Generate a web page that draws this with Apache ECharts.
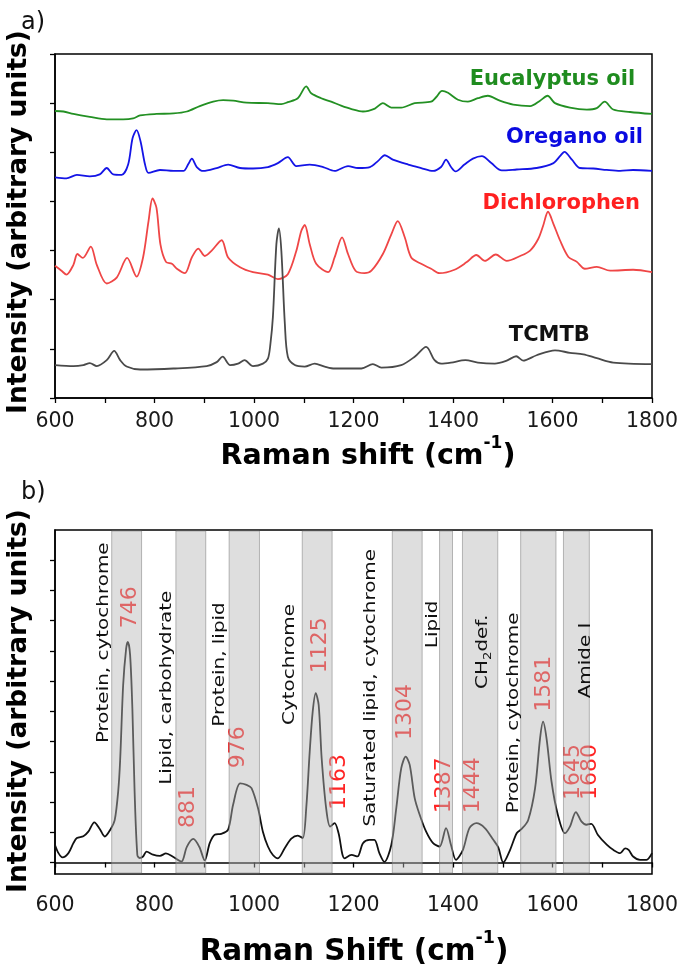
<!DOCTYPE html>
<html><head><meta charset="utf-8">
<script src="https://cdn.jsdelivr.net/npm/echarts@6/dist/echarts.min.js"></script>
<style>html,body{margin:0;padding:0;background:#fff}#c{width:685px;height:979px}</style>
</head><body><div id="c"></div>
<script>
// ---------- Panel a) data ----------
const eucX = [600,617,637,670,704,737,757,771,804,838,865,891,918,938,958,985,1028,1055,1068,1088,1105,1115,1135,1155,1175,1196,1219,1243,1259,1276,1296,1323,1356,1366,1378,1390,1410,1430,1450,1470,1494,1521,1555,1575,1590,1605,1635,1669,1689,1705,1722,1756,1800];
const eucY = [5.84,5.83,5.78,5.72,5.67,5.67,5.69,5.75,5.78,5.79,5.83,5.94,6.03,6.06,6.05,6.01,6.00,5.98,6.02,6.10,6.34,6.20,6.10,6.03,5.95,5.88,5.83,5.89,6.00,5.91,5.91,6.00,6.03,6.12,6.25,6.21,6.07,6.03,6.10,6.15,6.05,5.97,5.94,6.05,6.15,6.00,5.91,5.87,5.90,6.03,5.87,5.82,5.78];

const oreX = [600,623,644,670,690,704,717,734,747,756,764,772,781,788,811,838,858,868,875,885,898,925,948,972,998,1028,1048,1068,1085,1112,1139,1162,1189,1209,1233,1249,1263,1279,1310,1336,1360,1376,1386,1396,1405,1423,1440,1458,1477,1498,1528,1568,1602,1615,1624,1639,1655,1682,1709,1736,1762,1800];
const oreY = [4.49,4.47,4.54,4.51,4.55,4.68,4.55,4.54,4.75,5.29,5.45,5.22,4.75,4.58,4.64,4.62,4.62,4.76,4.87,4.70,4.62,4.68,4.75,4.68,4.67,4.70,4.78,4.90,4.72,4.75,4.70,4.62,4.72,4.68,4.70,4.82,4.94,4.85,4.75,4.68,4.62,4.70,4.85,4.70,4.61,4.75,4.87,4.92,4.78,4.63,4.65,4.68,4.78,4.92,5.01,4.85,4.68,4.67,4.64,4.62,4.64,4.62];

const dicX = [600,613,623,637,645,656,672,684,704,724,745,764,777,788,796,804,812,823,835,845,861,875,888,901,915,935,948,972,998,1028,1048,1068,1085,1095,1102,1112,1125,1149,1162,1177,1189,1204,1222,1236,1259,1276,1289,1303,1316,1336,1356,1373,1403,1427,1447,1464,1486,1508,1535,1555,1571,1581,1591,1602,1615,1632,1649,1665,1689,1716,1762,1800];
const dicY = [2.69,2.59,2.51,2.71,2.93,2.85,3.08,2.71,2.33,2.45,2.85,2.47,2.86,3.60,4.06,3.87,3.12,2.77,2.73,2.63,2.54,2.86,3.04,2.89,3.00,3.21,2.86,2.66,2.56,2.51,2.42,2.52,2.99,3.40,3.52,3.13,2.73,2.56,2.86,3.27,2.93,2.59,2.54,2.59,2.93,3.33,3.60,3.27,2.86,2.73,2.63,2.54,2.61,2.76,2.91,2.79,2.92,2.79,2.89,3.00,3.23,3.50,3.79,3.54,3.21,2.87,2.77,2.63,2.67,2.59,2.61,2.56];

const tcmX = [600,637,657,670,684,704,719,731,744,771,838,905,925,937,952,968,981,998,1018,1028,1033,1038,1045,1050,1055,1062,1068,1082,1102,1122,1142,1162,1216,1239,1256,1296,1323,1346,1363,1376,1396,1425,1450,1484,1508,1527,1541,1568,1605,1635,1662,1689,1722,1800];
const tcmY = [0.67,0.65,0.67,0.71,0.65,0.77,0.96,0.77,0.64,0.58,0.60,0.65,0.73,0.84,0.67,0.70,0.77,0.65,0.70,0.80,1.10,1.65,3.13,3.45,2.99,1.51,0.84,0.67,0.64,0.70,0.64,0.60,0.60,0.69,0.62,0.67,0.84,1.04,0.77,0.70,0.72,0.77,0.72,0.70,0.76,0.85,0.76,0.87,0.97,0.92,0.89,0.81,0.72,0.69];

const seriesNamesA = ['Eucalyptus oil','Oregano oil','Dichlorophen','TCMTB'];
const seriesLabelPos = [[1766,6.49],[1782,5.29],[1776,3.96],[1675,1.27]];

// ---------- Panel b) data ----------
const cellX = [600,607,615,627,637,644,657,667,679,690,700,712,720,727,731,737,743,746.5,751,755.5,760,765.5,770,777,784,797,811,823,838,854,865,878,890,901,911,921,934,948,958,972,985,995,1008,1018,1028,1038,1048,1062,1075,1088,1098,1105,1112,1118,1124,1130,1136,1145,1153,1162,1170,1182,1196,1208,1219,1232,1242,1252,1262,1276,1286,1296,1305,1313,1323,1333,1346,1360,1373,1386,1396,1406,1420,1433,1447,1464,1481,1491,1501,1515,1528,1538,1551,1565,1575,1581,1588,1598,1610,1625,1635,1647,1658,1668,1678,1691,1709,1722,1736,1746,1753,1762,1776,1789,1800];
const cellY = [0.58,0.31,0.17,0.31,0.64,0.81,0.87,1.02,1.33,1.11,0.86,1.11,1.40,2.35,3.40,5.87,7.08,7.30,6.86,5.10,2.35,0.25,0.15,0.20,0.36,0.26,0.22,0.30,0.18,0.03,0.52,0.78,0.52,0.07,0.64,0.92,0.95,1.09,1.91,2.62,2.57,2.46,1.80,1.01,0.53,0.25,0.14,0.48,0.79,0.89,0.81,1.80,3.67,4.99,5.60,5.21,3.45,1.80,1.19,1.30,0.97,0.14,0.25,0.20,0.64,0.75,0.75,0.31,0.02,0.58,1.80,3.12,3.50,3.23,2.13,1.58,1.02,0.64,0.53,1.14,0.58,0.09,0.42,1.14,1.30,1.14,0.75,0.50,0.00,0.43,0.97,1.11,1.40,2.46,4.11,4.66,4.11,2.68,1.63,0.97,1.19,1.67,1.36,1.25,1.28,0.92,0.59,0.42,0.31,0.47,0.42,0.20,0.09,0.09,0.31];

const bandStart = [714,843,950,1097,1278,1373,1419,1536,1622];
const bandEnd   = [774,903,1011,1157,1338,1399,1490,1607,1674];

const peakText = ['746','881','976','1125','1163','1304','1387','1444','1581','1645','1680'];
const peakPos  = [[751,7.75],[868,1.14],[968.5,3.12],[1133,6.26],[1172,1.74],[1304.5,4.05],[1382,1.63],[1440,1.63],[1583,4.99],[1642,2.07],[1675.5,2.07]];

const assignText = ['Protein, cytochrome','Lipid, carbohydrate','Protein, lipid','Cytochrome','Saturated lipid, cytochrome','Lipid','{n|CH}{b|2}{n|def.}','Protein, cytochrome','Amide I'];
const assignPos  = [[698.5,3.95],[824.5,2.57],[931.7,4.49],[1071.7,4.55],[1234.5,1.19],[1361,7.09],[1460,5.74],[1523,1.63],[1666.7,5.43]];

const xTicks = {min:600, max:1800, interval:200};
const yTicksB = [0,1,2,3,4,5,6,7,8,9,10];

// ---------- chart ----------
const pair = (xs, ys) => xs.map((x,i)=>[x, ys[i]]);
const FONT = 'DejaVu Sans';
const chart = echarts.init(document.getElementById('c'), null, {renderer:'canvas'});

const xAxisBase = (gi, margin) => ({
  gridIndex: gi, type:'value', min:xTicks.min, max:xTicks.max, interval:xTicks.interval,
  axisLine:{show:true, lineStyle:{color:'#000', width:1.5}},
  axisTick:{show:true, inside:false, length:5, lineStyle:{color:'#000', width:1.3}},
  minorTick:{show:true, splitNumber:2, length:5, lineStyle:{color:'#000', width:1.3}},
  axisLabel:{show:true, fontFamily:FONT, fontSize:20.5, color:'#1a1a1a', margin:margin, formatter:(v)=>String(v)},
  splitLine:{show:false}, minorSplitLine:{show:false}
});

const PAL = ['#239023','#1414e6','#ef4646','#4a4a4a'];
const TXT = ['#1f8c1f','#0a0ae0','#ff2020','#111111'];

function lineSeries(xs, ys, color, gi, w){
  return {type:'line', xAxisIndex:gi, yAxisIndex:gi, data:pair(xs,ys), showSymbol:false, symbol:'none',
    smooth:0.3, silent:true, z:2, lineStyle:{color:color, width:w}};
}

const option = {
  animation:false,
  backgroundColor:'#fff',
  grid:[
    {left:55, top:54, width:597, height:344, show:true, borderColor:'#000', borderWidth:1.5, backgroundColor:'transparent'},
    {left:55, top:530, width:597, height:344, show:true, borderColor:'#000', borderWidth:1.5, backgroundColor:'transparent'}
  ],
  xAxis:[ xAxisBase(0, 13), xAxisBase(1, 21) ],
  yAxis:[
    {gridIndex:0, type:'value', min:0, max:7, interval:1,
     axisLine:{show:true, lineStyle:{color:'#000', width:1.5}},
     axisTick:{show:true, inside:false, length:5, lineStyle:{color:'#000', width:1.3}},
     axisLabel:{show:false}, splitLine:{show:false}},
    {gridIndex:1, type:'value', min:-0.38, max:11,
     axisLine:{show:true, lineStyle:{color:'#000', width:1.5}},
     axisTick:{show:true, inside:false, length:5, customValues:yTicksB, lineStyle:{color:'#000', width:1.3}},
     axisLabel:{show:false, customValues:yTicksB}, splitLine:{show:false}}
  ],
  series:[
    lineSeries(eucX, eucY, PAL[0], 0, 1.8),
    lineSeries(oreX, oreY, PAL[1], 0, 1.8),
    lineSeries(dicX, dicY, PAL[2], 0, 1.8),
    lineSeries(tcmX, tcmY, PAL[3], 0, 1.8),
    {type:'custom', coordinateSystem:'cartesian2d', xAxisIndex:0, yAxisIndex:0, silent:true, z:6,
     data: seriesLabelPos, encode:{x:0, y:1},
     renderItem:(params, api)=>{
       const i = params.dataIndex;
       const p = api.coord([api.value(0), api.value(1)]);
       return {type:'text', x:p[0], y:p[1], style:{text:seriesNamesA[i], fill:TXT[i], fontFamily:FONT, fontWeight:'bold', fontSize:21, align:'right', verticalAlign:'middle'}};
     }},
    lineSeries(cellX, cellY, '#111', 1, 1.8),
    {type:'custom', coordinateSystem:'cartesian2d', xAxisIndex:1, yAxisIndex:1, silent:true, z:3,
     data: peakPos, encode:{x:0, y:1},
     renderItem:(params, api)=>{
       const i = params.dataIndex;
       const p = api.coord([api.value(0), api.value(1)]);
       return {type:'text', x:p[0], y:p[1], rotation:Math.PI/2,
         style:{text:peakText[i], fill:'#ff2424', fontFamily:FONT, fontSize:22, align:'left', verticalAlign:'middle'}};
     }},
    {type:'custom', coordinateSystem:'cartesian2d', xAxisIndex:1, yAxisIndex:1, silent:true, z:4,
     data: bandStart.map((s,i)=>[s, bandEnd[i], 0]), encode:{x:[0,1], y:2},
     renderItem:(params, api)=>{
       const a = api.coord([api.value(0), 0]);
       const b = api.coord([api.value(1), 0]);
       const cs = params.coordSys;
       return {type:'rect', shape:{x:a[0], y:cs.y+1, width:b[0]-a[0], height:cs.height-2},
         style:{fill:'rgba(181,181,181,0.45)', stroke:'rgba(130,130,130,0.55)', lineWidth:1}};
     }},
    {type:'custom', coordinateSystem:'cartesian2d', xAxisIndex:1, yAxisIndex:1, silent:true, z:5,
     data: assignPos, encode:{x:0, y:1},
     renderItem:(params, api)=>{
       const i = params.dataIndex;
       const p = api.coord([api.value(0), api.value(1)]);
       return {type:'text', x:p[0], y:p[1], rotation:Math.PI/2, scaleX:1.33,
         style:{text:assignText[i], fill:'#111', fontFamily:FONT, fontSize:15, align:'left', verticalAlign:'middle',
           rich:{n:{fontFamily:FONT, fontSize:15, fill:'#111', lineHeight:22},
                 b:{fontFamily:FONT, fontSize:10, fill:'#111', lineHeight:11, verticalAlign:'bottom'}}}};
     }}
  ],
  graphic:[
    {type:'text', x:21, y:23, style:{text:'a)', fontFamily:FONT, fontSize:24, fill:'#111', align:'left', verticalAlign:'middle'}},
    {type:'text', x:21, y:493, style:{text:'b)', fontFamily:FONT, fontSize:24, fill:'#111', align:'left', verticalAlign:'middle'}},
    {type:'text', x:19, y:222, rotation:Math.PI/2, style:{text:'Intensity (arbitrary units)', fontFamily:FONT, fontWeight:'bold', fontSize:26.5, fill:'#000', align:'center', verticalAlign:'middle'}},
    {type:'text', x:19, y:701, rotation:Math.PI/2, style:{text:'Intensity (arbitrary units)', fontFamily:FONT, fontWeight:'bold', fontSize:26.5, fill:'#000', align:'center', verticalAlign:'middle'}},
    {type:'text', x:368, y:457, style:{text:'{a|Raman shift (cm}{s|-1}{a|)}', align:'center', verticalAlign:'middle',
      rich:{a:{fontFamily:FONT, fontWeight:'bold', fontSize:28.5, fill:'#000', lineHeight:44},
            s:{fontFamily:FONT, fontWeight:'bold', fontSize:17, fill:'#000', lineHeight:17, verticalAlign:'top'}}}},
    {type:'text', x:354, y:952, style:{text:'{a|Raman Shift (cm}{s|-1}{a|)}', align:'center', verticalAlign:'middle',
      rich:{a:{fontFamily:FONT, fontWeight:'bold', fontSize:29.5, fill:'#000', lineHeight:46},
            s:{fontFamily:FONT, fontWeight:'bold', fontSize:17.5, fill:'#000', lineHeight:18, verticalAlign:'top'}}}}
  ]
};
chart.setOption(option);
</script></body></html>
